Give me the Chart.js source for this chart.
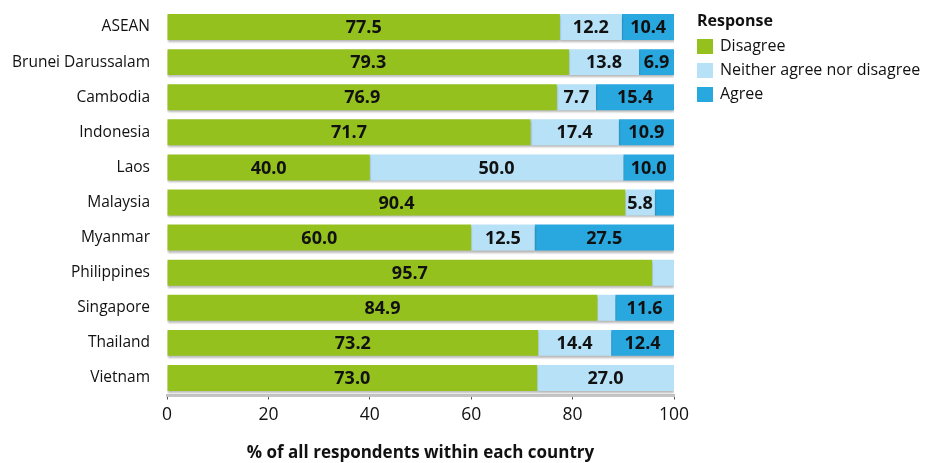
<!DOCTYPE html>
<html>
<head>
<meta charset="utf-8">
<script src="https://cdn.jsdelivr.net/npm/chart.js@4"></script>
<style>
  html, body { margin: 0; padding: 0; background: #fff; }
  #wrap { width: 928px; height: 463px; }
</style>
</head>
<body>
<div id="wrap"><canvas id="chart" width="928" height="463"></canvas></div>
<script>
const countries = ['ASEAN', 'Brunei Darussalam', 'Cambodia', 'Indonesia', 'Laos', 'Malaysia', 'Myanmar', 'Philippines', 'Singapore', 'Thailand', 'Vietnam'];
const disagree = [77.5, 79.3, 76.9, 71.7, 40.0, 90.4, 60.0, 95.7, 84.9, 73.2, 73.0];
const neither  = [12.2, 13.8, 7.7, 17.4, 50.0, 5.8, 12.5, 4.3, 3.5, 14.4, 27.0];
const agree    = [10.4, 6.9, 15.4, 10.9, 10.0, 3.8, 27.5, 0, 11.6, 12.4, 0];
const xTicks = [0, 20, 40, 60, 80, 100];

const FONT = '"Open Sans", "Noto Sans", sans-serif';
const COLORS = ['#95c11f', '#b7e1f7', '#29a7df'];

// values under this are too narrow to carry a label
const MIN_LABEL = 5;

const barLabels = {
  id: 'barLabels',
  afterDatasetsDraw(chart) {
    const ctx = chart.ctx;
    ctx.save();
    ctx.font = 'bold 18px ' + FONT;
    ctx.fillStyle = '#111';
    ctx.textAlign = 'center';
    ctx.textBaseline = 'middle';
    chart.data.datasets.forEach((ds, di) => {
      chart.getDatasetMeta(di).data.forEach((bar, i) => {
        const v = ds.data[i];
        if (v < MIN_LABEL) return;
        const { x, base, y } = bar.getProps(['x', 'base', 'y'], true);
        ctx.fillText(v.toFixed(1), (x + base) / 2, y + 1);
      });
    });
    ctx.restore();
  }
};

// soft grey edge under every bar
const barShadow = {
  id: 'barShadow',
  beforeDatasetsDraw(chart) {
    const ctx = chart.ctx;
    ctx.save();
    ctx.shadowColor = 'rgba(0,0,0,0.28)';
    ctx.shadowOffsetY = 2;
    ctx.shadowBlur = 2;
  },
  afterDatasetsDraw(chart) {
    chart.ctx.restore();
  }
};

const sideLegend = {
  id: 'sideLegend',
  afterDraw(chart) {
    const ctx = chart.ctx;
    const x0 = 697;
    ctx.save();
    ctx.textBaseline = 'middle';
    ctx.textAlign = 'left';
    ctx.fillStyle = '#111';
    ctx.font = 'bold 16px ' + FONT;
    ctx.fillText('Response', x0, 21);
    ctx.font = '16px ' + FONT;
    chart.data.datasets.forEach((ds, i) => {
      const cy = 46 + i * 24;
      ctx.fillStyle = ds.backgroundColor;
      ctx.fillRect(x0, cy - 7, 16, 15);
      ctx.fillStyle = '#111';
      ctx.fillText(ds.label, x0 + 23, cy);
    });
    ctx.restore();
  }
};

new Chart(document.getElementById('chart'), {
  type: 'bar',
  data: {
    labels: countries,
    datasets: [
      { label: 'Disagree', data: disagree, backgroundColor: COLORS[0] },
      { label: 'Neither agree nor disagree', data: neither, backgroundColor: COLORS[1] },
      { label: 'Agree', data: agree, backgroundColor: COLORS[2] }
    ]
  },
  options: {
    indexAxis: 'y',
    responsive: false,
    animation: false,
    barPercentage: 0.85,
    categoryPercentage: 0.87,
    layout: { padding: { top: 9.5, right: 254, left: 0, bottom: 0 } },
    plugins: {
      legend: { display: false },
      tooltip: { enabled: false }
    },
    scales: {
      x: {
        stacked: true,
        min: 0,
        max: 100,
        afterBuildTicks: s => { s.ticks = xTicks.map(v => ({ value: v })); },
        afterFit: s => { s.height = 67.5; s.paddingLeft = 0; s.paddingRight = 0; },
        border: { display: true, color: '#c4c4c4', width: 3 },
        grid: { drawOnChartArea: false, tickLength: 4, color: '#555', lineWidth: 1 },
        ticks: { color: '#111', font: { family: FONT, size: 17.5 }, padding: 5, maxRotation: 0 },
        title: {
          display: true,
          text: '% of all respondents within each country',
          color: '#111',
          font: { family: FONT, size: 17, weight: 'bold' },
          padding: { top: 0, bottom: 0 }
        }
      },
      y: {
        stacked: true,
        afterFit: s => { s.width = 167; s.paddingTop = 0; s.paddingBottom = 0; },
        border: { display: false },
        grid: { display: false, drawTicks: false },
        ticks: { color: '#111', font: { family: FONT, size: 15.5 }, padding: 17 }
      }
    }
  },
  plugins: [barShadow, barLabels, sideLegend]
});
</script>
</body>
</html>
